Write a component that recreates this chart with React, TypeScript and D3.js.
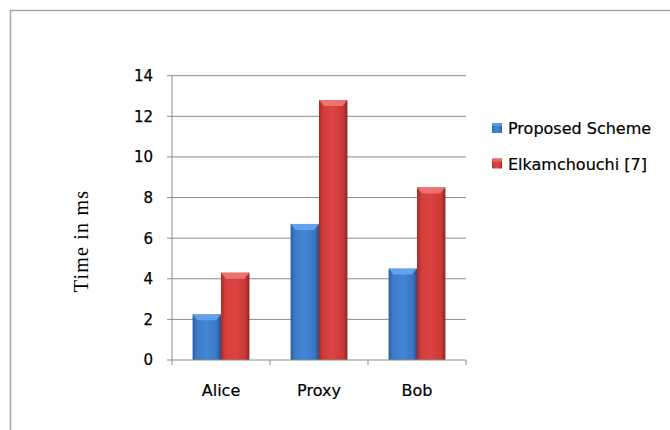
import React from "react";
import * as d3 from "d3";

const categories = ["Alice", "Proxy", "Bob"];
const seriesNames = ["Proposed Scheme", "Elkamchouchi [7]"];
const proposedValues = [2.25, 6.7, 4.5];
const elkamValues = [4.3, 12.8, 8.5];
const yTicks = [0, 2, 4, 6, 8, 10, 12, 14];

const W = 670;
const H = 430;
const plot = { left: 172, right: 466, top: 75.7, bottom: 360 };

const colors = [
  { id: "gBlue", stops: ["#2b5f9f", "#3b7ac6", "#4387d6", "#3a76c2", "#24508a"], bevel: "#6aa8ee", key: "#3b78c4" },
  { id: "gRed", stops: ["#a82b29", "#d23d3a", "#dd4442", "#c93936", "#8e2422"], bevel: "#f27a78", key: "#c43b39" },
];

export default function App() {
  const x0 = d3.scaleBand<string>().domain(categories).range([plot.left, plot.right]).paddingInner(0.42).paddingOuter(0.21);
  const x1 = d3.scaleBand<number>().domain([0, 1]).range([0, x0.bandwidth()]).padding(0);
  const y = d3.scaleLinear().domain([0, 14]).range([plot.bottom, plot.top]);
  const series = [proposedValues, elkamValues];
  const step = (plot.right - plot.left) / categories.length;
  const font = "'DejaVu Sans', sans-serif";

  return (
    <svg width={W} height={H} style={{ position: "absolute", left: 0, top: 0 }}>
      <defs>
        {colors.map((c) => (
          <linearGradient key={c.id} id={c.id} x1="0" x2="1" y1="0" y2="0">
            <stop offset="0%" stopColor={c.stops[0]} />
            <stop offset="15%" stopColor={c.stops[1]} />
            <stop offset="50%" stopColor={c.stops[2]} />
            <stop offset="85%" stopColor={c.stops[3]} />
            <stop offset="100%" stopColor={c.stops[4]} />
          </linearGradient>
        ))}
      </defs>
      <rect x={0} y={0} width={W} height={H} fill="#fff" />
      <path d={`M10.5,${H} V10.5 H${W}`} fill="none" stroke="#a6a6a6" strokeWidth={1.5} />

      {yTicks.map((t) => (
        <g key={t}>
          {t > 0 && <line x1={plot.left} x2={plot.right} y1={y(t)} y2={y(t)} stroke="#8c8c8c" strokeWidth={1} />}
          <line x1={plot.left - 5} x2={plot.left} y1={y(t)} y2={y(t)} stroke="#8c8c8c" />
          <text x={153} y={y(t)} dy="0.36em" textAnchor="end" fontFamily={font} fontSize={15} fill="#000" stroke="#000" strokeWidth={0.25}>
            {t}
          </text>
        </g>
      ))}

      {categories.map((c, ci) => (
        <g key={c}>
          {series.map((vals, si) => {
            const bx = (x0(c) as number) + (x1(si) as number);
            const bw = x1.bandwidth();
            const by = y(vals[ci]);
            const bh = plot.bottom - by;
            const bev = 6;
            return (
              <g key={si}>
                <rect x={bx} y={by} width={bw} height={bh} fill={`url(#${colors[si].id})`} />
                <path
                  d={`M${bx},${by} H${bx + bw} L${bx + bw - 5},${by + bev} H${bx + 5} Z`}
                  fill={colors[si].bevel}
                  opacity={0.85}
                />
              </g>
            );
          })}
          <text x={(x0(c) as number) + x0.bandwidth() / 2} y={396} textAnchor="middle" fontFamily={font} fontSize={16} fill="#000" stroke="#000" strokeWidth={0.2}>
            {c}
          </text>
        </g>
      ))}

      <line x1={plot.left} x2={plot.left} y1={plot.top} y2={plot.bottom} stroke="#8c8c8c" />
      <line x1={plot.left} x2={plot.right} y1={plot.bottom} y2={plot.bottom} stroke="#8c8c8c" />
      {d3.range(categories.length + 1).map((i) => (
        <line key={i} x1={plot.left + i * step} x2={plot.left + i * step} y1={plot.bottom} y2={plot.bottom + 5} stroke="#8c8c8c" />
      ))}

      <text
        transform={`translate(88,241) rotate(-90)`}
        textAnchor="middle"
        fontFamily="'Liberation Serif', 'Times New Roman', serif"
        fontSize={20}
        letterSpacing={1.2}
        fill="#000"
      >
        Time in ms
      </text>

      {seriesNames.map((n, i) => (
        <g key={n} transform={`translate(492,${123 + i * 35.5})`}>
          <rect x={0} y={0} width={10} height={10} fill={`url(#${colors[i].id})`} />
          <rect x={0} y={0} width={10} height={3} fill={colors[i].bevel} opacity={0.7} />
          <text x={16} y={11} fontFamily={font} fontSize={16} fill="#000" stroke="#000" strokeWidth={0.2}>
            {n}
          </text>
        </g>
      ))}
    </svg>
  );
}
